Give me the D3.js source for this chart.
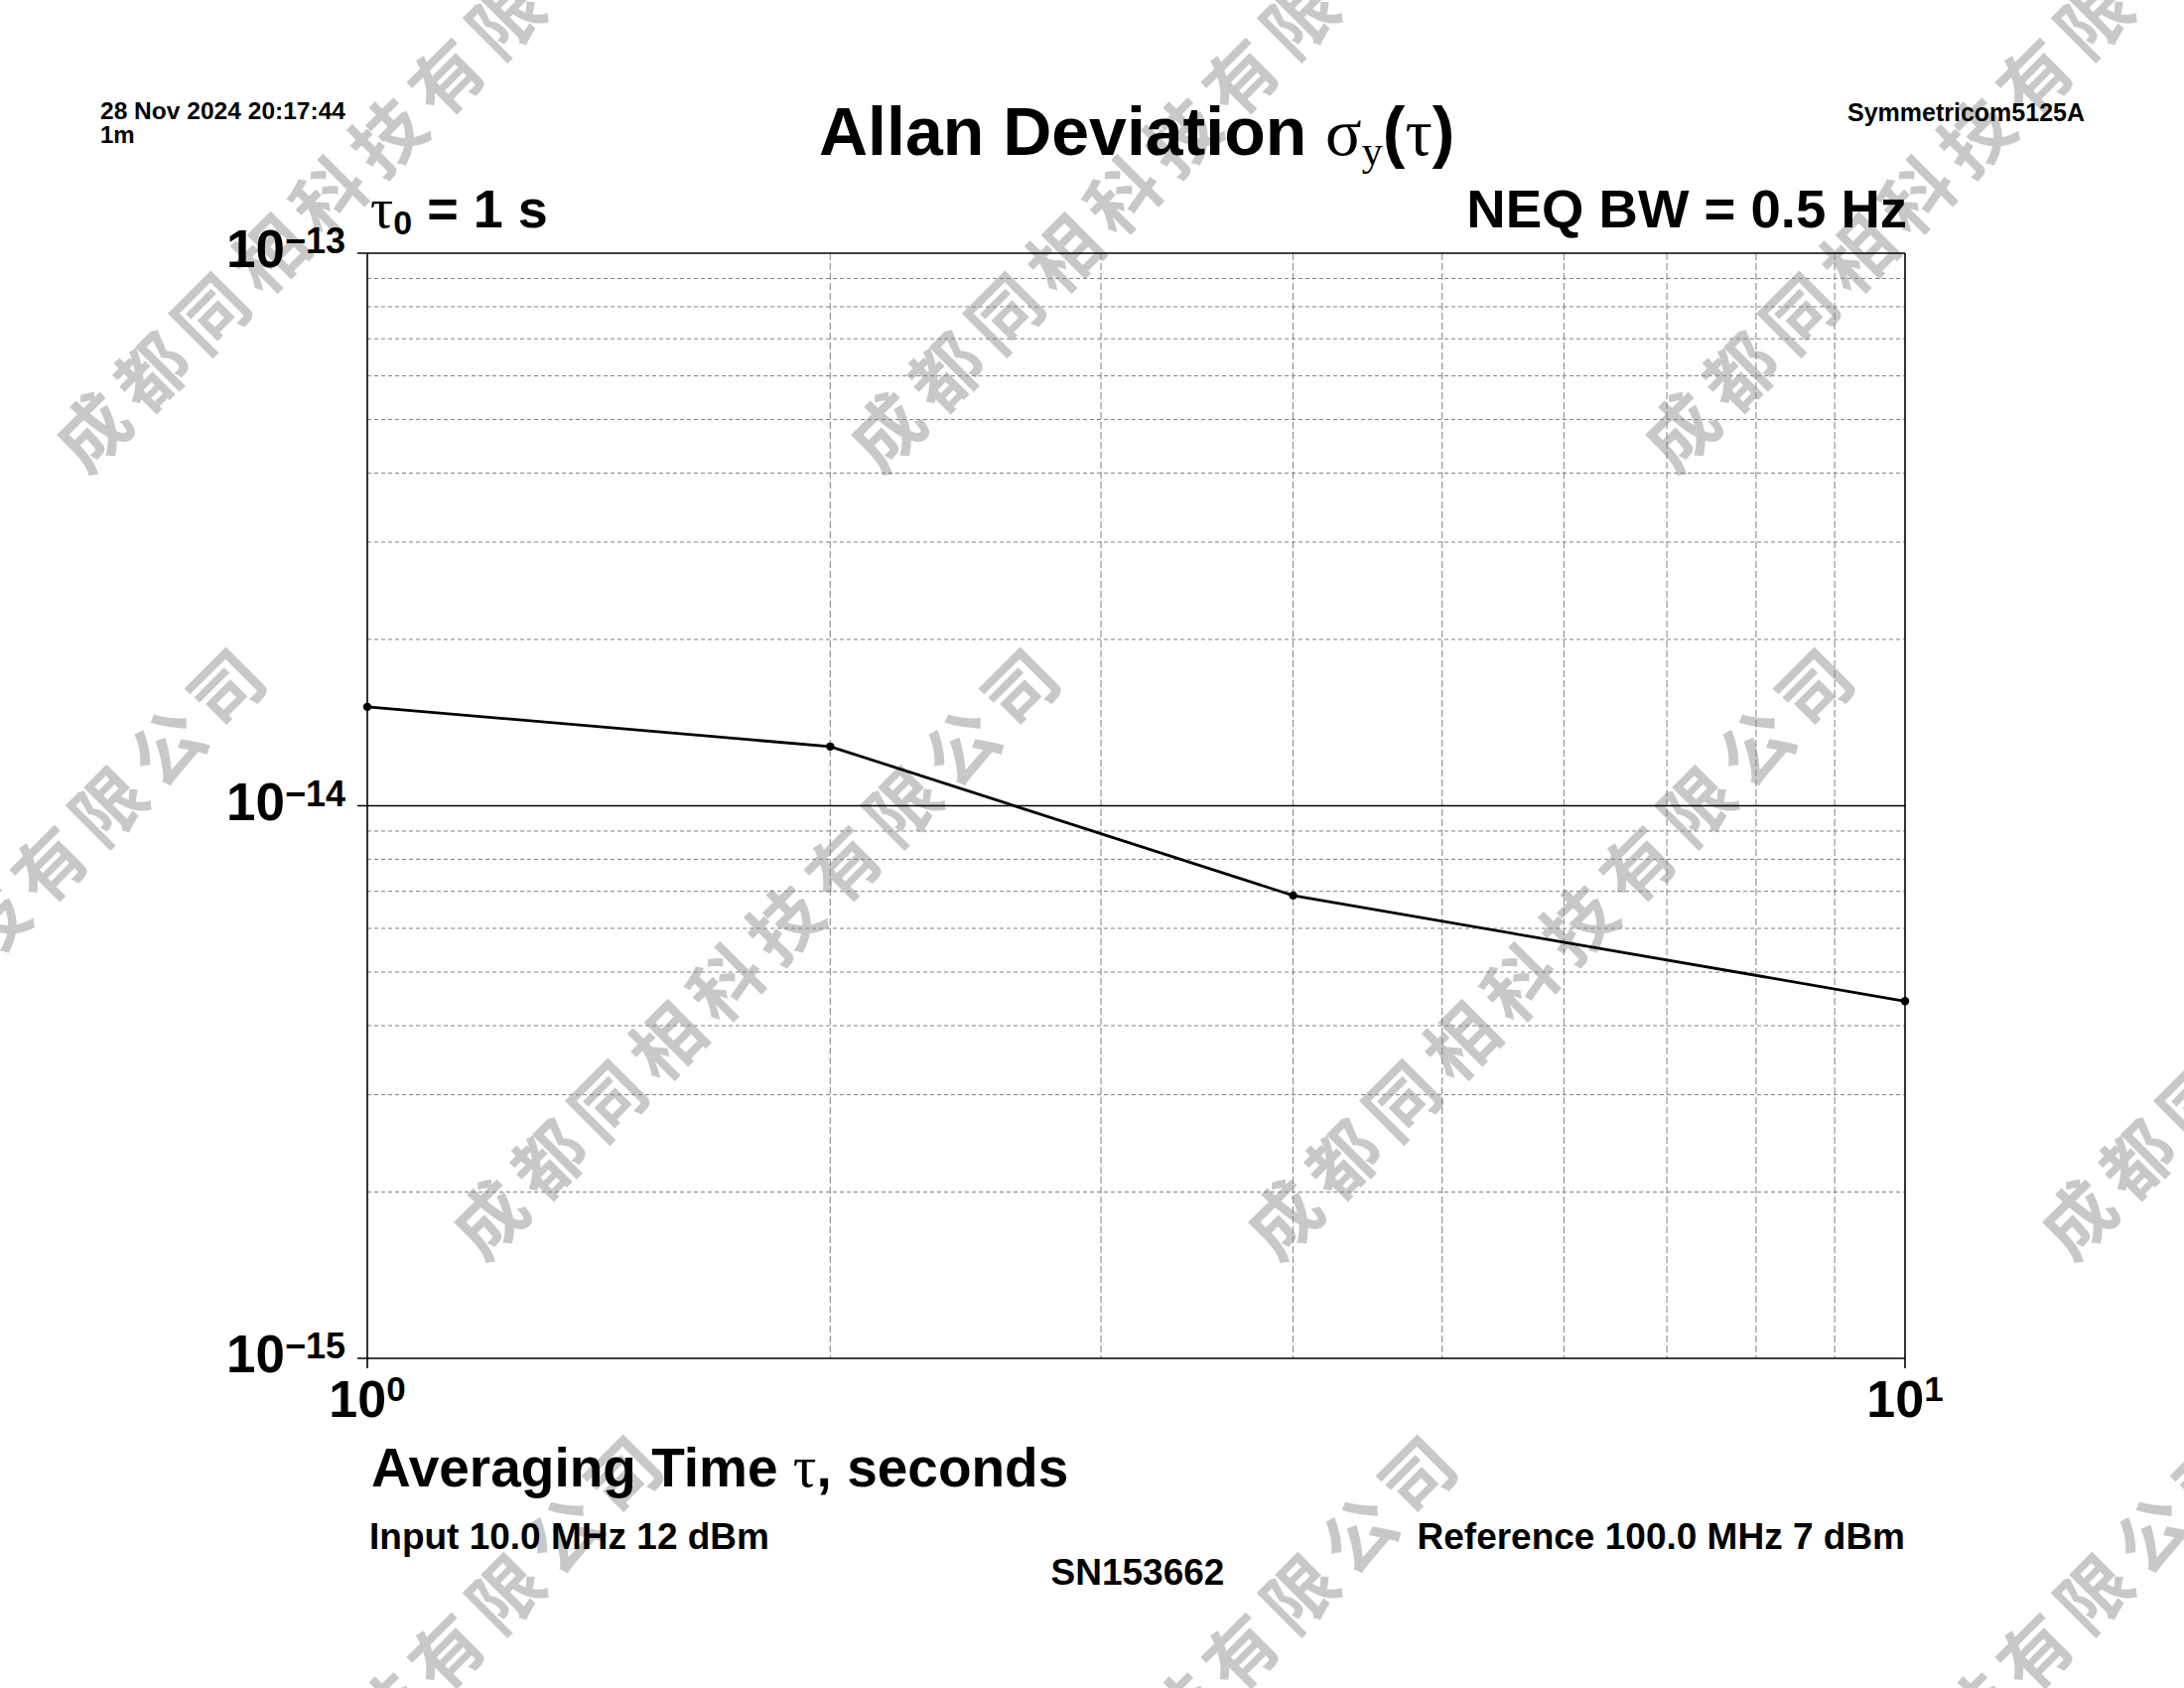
<!DOCTYPE html>
<html>
<head>
<meta charset="utf-8">
<script src="https://cdn.jsdelivr.net/npm/d3@7"></script>
<style>
  html, body { margin: 0; padding: 0; background: #ffffff; }
  svg { display: block; }
</style>
</head>
<body>
<script>
// ---- data ----
const taus = [1, 2, 4, 10];
const adev = [1.51e-14, 1.28e-14, 6.88e-15, 4.43e-15];
const xDecadeExps = [0, 1];
const yDecadeExps = [-13, -14, -15];
const xMinorTicks = [2, 3, 4, 5, 6, 7, 8, 9];
const yMinorTicks = [2e-15, 3e-15, 4e-15, 5e-15, 6e-15, 7e-15, 8e-15, 9e-15,
                     2e-14, 3e-14, 4e-14, 5e-14, 6e-14, 7e-14, 8e-14, 9e-14];
const headerLeft = ["28 Nov 2024 20:17:44", "1m"];
const headerRight = "Symmetricom5125A";
const neqText = "NEQ BW = 0.5 Hz";
const inputText = "Input 10.0 MHz 12 dBm";
const refText = "Reference 100.0 MHz 7 dBm";
const snText = "SN153662";
const watermarkText = "成都同相科技有限公司";
const watermarkRows = [0, 1, 2];
const watermarkCols = [-1, 0, 1, 2];

// ---- layout ----
const W = 2200, H = 1700;
const L = 370, R = 1919, T = 255, B = 1368;
const SANS = "'Liberation Sans', Arial, Helvetica, sans-serif";
const SERIF = "'Liberation Serif', 'Times New Roman', serif";

const svg = d3.select("body").append("svg").attr("width", W).attr("height", H);
svg.append("rect").attr("width", W).attr("height", H).attr("fill", "#fff");

const x = d3.scaleLog().domain([1, 10]).range([L, R]);
const y = d3.scaleLog().domain([1e-15, 1e-13]).range([B, T]);

// ---- watermark ----
const wm = svg.append("g");
watermarkRows.forEach(r => {
  watermarkCols.forEach(c => {
    const cx = 362 + c * 800 + (r % 2) * 400;
    const cy = 160 + r * 793;
    wm.append("text")
      .attr("transform", `translate(${cx},${cy}) rotate(-45)`)
      .attr("text-anchor", "middle")
      .attr("dominant-baseline", "central")
      .attr("font-family", "'Noto Sans CJK SC'")
      .attr("font-weight", "bold")
      .attr("font-size", 72)
      .attr("letter-spacing", 12)
      .attr("fill", "#c8c8c8")
      .text(watermarkText);
  });
});

// ---- grid ----
const g = svg.append("g");
g.selectAll("line.hminor").data(yMinorTicks).enter().append("line")
  .attr("x1", L).attr("x2", R)
  .attr("y1", d => y(d)).attr("y2", d => y(d))
  .attr("stroke", "#808080").attr("stroke-width", 1)
  .attr("stroke-dasharray", "4,3");
g.selectAll("line.vminor").data(xMinorTicks).enter().append("line")
  .attr("x1", d => x(d)).attr("x2", d => x(d))
  .attr("y1", T).attr("y2", B)
  .attr("stroke", "#808080").attr("stroke-width", 1)
  .attr("stroke-dasharray", "7,3");

// decade horizontal lines (extend left as ticks)
g.selectAll("line.hmajor").data(yDecadeExps).enter().append("line")
  .attr("x1", L - 10).attr("x2", R)
  .attr("y1", d => y(Math.pow(10, d))).attr("y2", d => y(Math.pow(10, d)))
  .attr("stroke", "#000").attr("stroke-width", 1.6);
// decade vertical lines (extend down as ticks)
g.selectAll("line.vmajor").data(xDecadeExps).enter().append("line")
  .attr("x1", d => x(Math.pow(10, d))).attr("x2", d => x(Math.pow(10, d)))
  .attr("y1", T).attr("y2", B + 10)
  .attr("stroke", "#000").attr("stroke-width", 1.6);

// ---- tick labels ----
yDecadeExps.forEach(e => {
  const t = svg.append("text")
    .attr("x", 348).attr("y", y(Math.pow(10, e)) + 14)
    .attr("text-anchor", "end")
    .attr("font-family", SANS).attr("font-weight", "bold").attr("fill", "#000");
  t.append("tspan").attr("font-size", 53).text("10");
  t.append("tspan").attr("font-size", 36).attr("dy", -14).text("\u2212" + Math.abs(e));
});
xDecadeExps.forEach(e => {
  const t = svg.append("text")
    .attr("x", x(Math.pow(10, e))).attr("y", 1427)
    .attr("text-anchor", "middle")
    .attr("font-family", SANS).attr("font-weight", "bold").attr("fill", "#000");
  t.append("tspan").attr("font-size", 52).text("10");
  t.append("tspan").attr("font-size", 35).attr("dy", -16).text(String(e));
});

// ---- data line ----
const pts = taus.map((t, i) => [t, adev[i]]);
svg.append("path").datum(pts)
  .attr("d", d3.line().x(d => x(d[0])).y(d => y(d[1])))
  .attr("fill", "none").attr("stroke", "#000").attr("stroke-width", 2.8);
svg.selectAll("circle.pt").data(pts).enter().append("circle")
  .attr("cx", d => x(d[0])).attr("cy", d => y(d[1])).attr("r", 4.2)
  .attr("fill", "#000");

// ---- header texts ----
svg.append("text").attr("x", 101).attr("y", 120)
  .attr("font-family", SANS).attr("font-weight", "bold").attr("font-size", 24)
  .attr("textLength", 247).attr("lengthAdjust", "spacingAndGlyphs")
  .text(headerLeft[0]);
svg.append("text").attr("x", 101).attr("y", 144)
  .attr("font-family", SANS).attr("font-weight", "bold").attr("font-size", 24)
  .text(headerLeft[1]);
svg.append("text").attr("x", 2100).attr("y", 122).attr("text-anchor", "end")
  .attr("font-family", SANS).attr("font-weight", "bold").attr("font-size", 25)
  .text(headerRight);

// Title
const title = svg.append("text").attr("x", 825).attr("y", 156)
  .attr("font-family", SANS).attr("font-weight", "bold").attr("font-size", 68).attr("fill", "#000");
title.append("tspan").text("Allan Deviation ");
title.append("tspan").attr("font-family", SERIF).attr("font-weight", "normal").text("σ");
title.append("tspan").attr("font-family", SERIF).attr("font-weight", "normal").attr("font-size", 42).attr("dy", 10).text("y");
title.append("tspan").attr("dy", -10).text("(");
title.append("tspan").attr("font-family", SERIF).attr("font-weight", "normal").text("τ");
title.append("tspan").text(")");

// tau0
const tau0 = svg.append("text").attr("x", 373).attr("y", 229)
  .attr("font-family", SANS).attr("font-weight", "bold").attr("font-size", 54);
tau0.append("tspan").attr("font-family", SERIF).attr("font-weight", "normal").attr("font-size", 58).text("τ");
tau0.append("tspan").attr("font-size", 34).attr("dy", 7).text("0");
tau0.append("tspan").attr("dy", -7).text(" = 1 s");

svg.append("text").attr("x", 1921).attr("y", 229).attr("text-anchor", "end")
  .attr("font-family", SANS).attr("font-weight", "bold").attr("font-size", 54.5)
  .text(neqText);

// axis title
const xt = svg.append("text").attr("x", 374).attr("y", 1497)
  .attr("font-family", SANS).attr("font-weight", "bold").attr("font-size", 55);
xt.append("tspan").text("Averaging Time ");
xt.append("tspan").attr("font-family", SERIF).attr("font-weight", "normal").attr("font-size", 59).text("τ");
xt.append("tspan").text(", seconds");

svg.append("text").attr("x", 372).attr("y", 1560)
  .attr("font-family", SANS).attr("font-weight", "bold").attr("font-size", 37)
  .text(inputText);
svg.append("text").attr("x", 1919).attr("y", 1560).attr("text-anchor", "end")
  .attr("font-family", SANS).attr("font-weight", "bold").attr("font-size", 37)
  .text(refText);
svg.append("text").attr("x", 1146).attr("y", 1596).attr("text-anchor", "middle")
  .attr("font-family", SANS).attr("font-weight", "bold").attr("font-size", 37)
  .text(snText);
</script>
</body>
</html>
